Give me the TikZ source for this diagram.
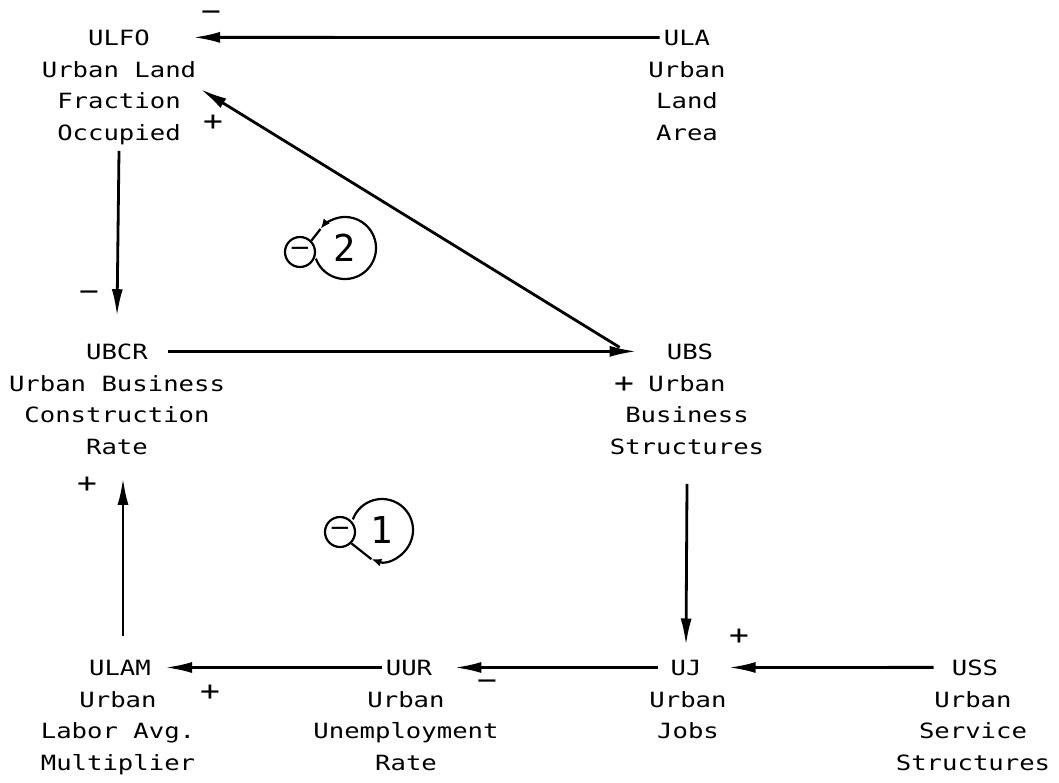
\documentclass[tikz,border=0pt]{standalone}
\usepackage{fontspec}
\newfontfamily\tw[FakeStretch=1.22]{DejaVu Sans Mono}
\newfontfamily\twn{DejaVu Sans Mono}
\usetikzlibrary{arrows.meta,calc}

\begin{document}
\begin{tikzpicture}[x=1pt,y=1pt,
  vname/.style={font=\tw\fontsize{21}{31.6}\selectfont, inner sep=0pt, anchor=base},
  vdesc/.style={font=\tw\fontsize{21}{31.6}\selectfont, inner sep=0pt, anchor=north, align=center},
  sign/.style={font=\tw\fontsize{27}{27}\selectfont, inner sep=0pt},
  arr/.style={line width=2.8pt, -{Latex[length=27pt,width=11pt]}},
  loopsign/.style={circle, draw, line width=2.2pt, minimum size=30pt, inner sep=0pt,
                   font=\tw\fontsize{26}{26}\selectfont},
  loopnum/.style={font=\twn\fontsize{37}{37}\selectfont, inner sep=0pt},
  looparr/.style={line width=2.2pt, -{Latex[length=10pt,width=8pt]}},
  loopline/.style={line width=2.2pt}]

\useasboundingbox (0,0) rectangle (1059,-782);

% ---- variables: abbreviation line, then the description below it
\node[vname] (ULFO) at (119,-45) {ULFO};
\node[vdesc] (ULFOd) at (119,-61) {Urban Land\\Fraction\\Occupied};

\node[vname] (ULA) at (687,-45) {ULA};
\node[vdesc] (ULAd) at (687,-61) {Urban\\Land\\Area};

\node[vname] (UBCR) at (117,-359) {UBCR};
\node[vdesc] (UBCRd) at (117,-375) {Urban Business\\Construction\\Rate};

\node[vname] (UBS) at (690,-359) {UBS};
\node[vdesc] (UBSd) at (687,-375) {Urban\\Business\\Structures};

\node[vname] (ULAM) at (120,-675) {ULAM};
\node[vdesc] (ULAMd) at (118,-691) {Urban\\Labor Avg.\\Multiplier};

\node[vname] (UUR) at (409,-675) {UUR};
\node[vdesc] (UURd) at (406,-691) {Urban\\Unemployment\\Rate};

\node[vname] (UJ) at (686,-675) {UJ};
\node[vdesc] (UJd) at (688,-691) {Urban\\Jobs};

\node[vname] (USS) at (975,-675) {USS};
\node[vdesc] (USSd) at (973,-691) {Urban\\Service\\Structures};

% ---- causal links
\draw[arr] ([xshift=-4pt]ULA.west) -- ([xshift=43pt]ULFO.east);
\draw[arr] ([shift={(-47pt,4pt)}]UBS.west) -- ([shift={(4pt,-28pt)}]ULFOd.north east);
\draw[arr] ([yshift=-6pt]ULFOd.south) -- ([yshift=27pt]UBCR.north);
\draw[arr] ([xshift=20pt]UBCR.east) -- ([xshift=-30pt]UBS.west);
\draw[arr] ([yshift=-29pt]UBSd.south) -- ([yshift=14pt]UJ.north);
\draw[arr] ([xshift=-18pt]USS.west) -- ([xshift=27pt]UJ.east);
\draw[arr] ([xshift=-12pt]UJ.west) -- ([xshift=22pt]UUR.east);
\draw[arr] ([xshift=-4pt]UUR.west) -- ([xshift=14pt]ULAM.east);
\draw[arr] ([shift={(3pt,24pt)}]ULAM.north) -- ([shift={(6pt,-23pt)}]UBCRd.south);

% ---- link polarities
\node[sign] (p1) at (211,-16) {−};
\node[sign] (p2) at (213,-123) {+};
\node[sign] (p3) at (89,-296) {−};
\node[sign] (p4) at (624,-385) {+};
\node[sign] (p5) at (87,-485) {+};
\node[sign] (p6) at (739,-637) {+};
\node[sign] (p7) at (487,-685) {−};
\node[sign] (p8) at (210,-693) {+};

% ---- loop 2 (counter-clockwise, negative)
\node[loopsign] (L2s) at (300,-252) {−};
\node[loopnum] (L2) at (345,-248) {2};
\draw[looparr] ([shift={(200:31)}]L2.center) arc[start angle=200, end angle=502, radius=31];
\draw[loopline] ([shift={(142:31)}]L2.center) -- (L2s.45);

% ---- loop 1 (clockwise, negative)
\node[loopsign] (L1s) at (340,-532) {−};
\node[loopnum] (L1) at (382,-530) {1};
\draw[looparr] ([shift={(160:31)}]L1.center) arc[start angle=160, end angle=-110, radius=31];
\draw[loopline] ([shift={(-110:31)}]L1.center) -- (L1s.-45);
\end{tikzpicture}
\end{document}
